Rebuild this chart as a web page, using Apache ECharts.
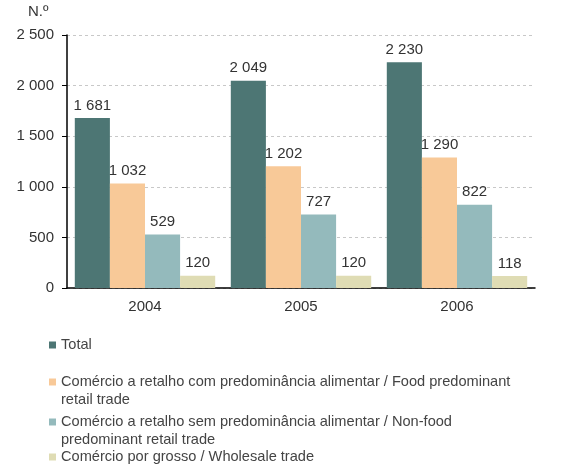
<!DOCTYPE html>
<html><head><meta charset="utf-8">
<script src="https://cdn.jsdelivr.net/npm/echarts@6/dist/echarts.min.js"></script>
<style>html,body{margin:0;padding:0;background:#fff}#c{width:576px;height:464px}</style>
</head><body><div id="c"></div>
<script>
var categories = ['2004', '2005', '2006'];
var seriesNames = [
  'Total',
  'Comércio a retalho com predominância alimentar / Food predominant retail trade',
  'Comércio a retalho sem predominância alimentar / Non-food predominant retail trade',
  'Comércio por grosso / Wholesale trade'
];
var legendLabels = [
  'Total',
  'Comércio a retalho com predominância alimentar / Food predominant\nretail trade',
  'Comércio a retalho sem predominância alimentar / Non-food\npredominant retail trade',
  'Comércio por grosso / Wholesale trade'
];
var totalValues = [1681, 2049, 2230];
var foodValues = [1032, 1202, 1290];
var nonFoodValues = [529, 727, 822];
var wholesaleValues = [120, 120, 118];
var colors = ['#4d7674', '#f8c998', '#94babc', '#dfdcb4'];

var FONT = '"Liberation Sans", Arial, sans-serif';
function fmt(v) { return String(v).replace(/\B(?=(\d{3})+(?!\d))/g, ' '); }

var dataSets = [totalValues, foodValues, nonFoodValues, wholesaleValues];
var legendTops = [336, 355, 395, 448];
var twoLine = [false, true, true, false];

var chart = echarts.init(document.getElementById('c'), null, {renderer: 'canvas'});
chart.setOption({
  animation: false,
  title: {text: 'N.º', left: 28, top: 4, padding: 0,
    textStyle: {fontFamily: FONT, fontSize: 15, fontWeight: 'normal', color: '#333'}},
  grid: {left: 67, right: 41, top: 35, bottom: 176, containLabel: false},
  legend: seriesNames.map(function (n, i) {
    return {
      data: [n], left: 49, top: legendTops[i], padding: 0, orient: 'vertical',
      icon: 'rect', itemWidth: 7, itemHeight: 7, selectedMode: false,
      formatter: function () {
        if (!twoLine[i]) return legendLabels[i];
        return '{e| }\n' + legendLabels[i].split('\n').map(function (s) { return '{t|' + s + '}'; }).join('\n');
      },
      textStyle: {fontFamily: FONT, fontSize: 14.6, color: '#444', lineHeight: 18,
        rich: {
          e: {fontSize: 14.6, lineHeight: 18, fontFamily: FONT},
          t: {fontSize: 14.6, lineHeight: 18, fontFamily: FONT, color: '#444'}
        }}
    };
  }),
  xAxis: {
    type: 'category', data: categories,
    axisLine: {lineStyle: {color: '#000', width: 1.5}},
    axisTick: {show: false},
    axisLabel: {fontFamily: FONT, fontSize: 15, color: '#333', margin: 11}
  },
  yAxis: {
    type: 'value', min: 0, max: 2500, interval: 500,
    axisLine: {show: true, lineStyle: {color: '#000', width: 1.5}},
    axisTick: {show: true, length: 5, lineStyle: {color: '#000'}},
    splitLine: {lineStyle: {color: '#c8c8c8', type: [3, 3]}},
    axisLabel: {fontFamily: FONT, fontSize: 15, color: '#333', margin: 13, formatter: fmt}
  },
  series: seriesNames.map(function (n, i) {
    return {
      name: n, type: 'bar', data: dataSets[i],
      barGap: '0%', barCategoryGap: '10%',
      itemStyle: {color: colors[i]},
      label: {show: true, position: 'top', distance: 5, fontFamily: FONT, fontSize: 15,
        color: '#333', formatter: function (p) { return fmt(p.value); }}
    };
  })
});
</script></body></html>
